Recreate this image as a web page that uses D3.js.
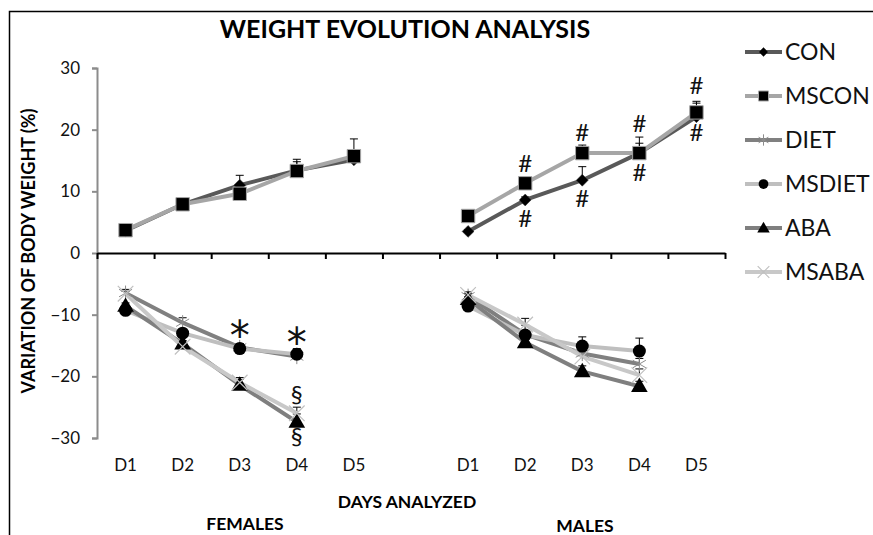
<!DOCTYPE html>
<html>
<head>
<meta charset="utf-8">
<script src="https://cdnjs.cloudflare.com/ajax/libs/d3/7.8.5/d3.min.js"></script>
<style>
  body { margin: 0; background: #fff; }
  svg { font-family: Lato, "Open Sans", sans-serif; }
</style>
</head>
<body>
<div id="chart"></div>
<script>
// categories on the x axis: females D1-D5, an empty slot, males D1-D5
const days = ['D1', 'D2', 'D3', 'D4', 'D5'];
const groups = ['FEMALES', 'MALES'];
const yTicks = [-30, -20, -10, 0, 10, 20, 30];

const seriesNames = ['CON', 'MSCON', 'DIET', 'MSDIET', 'ABA', 'MSABA'];

// variation of body weight (%), one array per group
const femCON    = [3.6, 7.9, 11.0, 13.4, 15.1];
const femMSCON  = [3.7, 7.9, 9.6, 13.3, 15.7];
const femDIET   = [-6.5, -11.3, -15.3, -16.8];
const femMSDIET = [-9.3, -13.0, -15.5, -16.4];
const femABA    = [-8.6, -14.7, -21.4, -27.4];
const femMSABA  = [-6.6, -15.2, -21.0, -26.0];

const maleCON    = [3.5, 8.6, 11.8, 16.2, 22.1];
const maleMSCON  = [6.0, 11.3, 16.2, 16.2, 22.8];
const maleDIET   = [-7.0, -13.2, -16.3, -18.0];
const maleMSDIET = [-8.6, -13.3, -15.1, -15.9];
const maleABA    = [-7.5, -14.5, -19.2, -21.6];
const maleMSABA  = [-6.8, -11.6, -16.8, -19.8];

// upper error bars (SEM)
const femCONErr    = [0.3, 0.4, 1.6, 1.8, 1.0];
const femMSCONErr  = [0.3, 0.3, 0.6, 1.5, 2.8];
const femDIETErr   = [0.6, 0.8, 0.6, 0.8];
const femMSDIETErr = [0.4, 0.5, 0.8, 0.9];
const femABAErr    = [0.5, 0.5, 0.9, 1.3];
const femMSABAErr  = [0.4, 0.6, 0.8, 1.0];

const maleCONErr    = [0.3, 0.5, 2.2, 2.6, 2.5];
const maleMSCONErr  = [0.3, 0.4, 1.3, 1.6, 1.5];
const maleDIETErr   = [0.4, 0.6, 0.8, 0.9];
const maleMSDIETErr = [0.4, 1.6, 1.5, 2.1];
const maleABAErr    = [0.4, 0.5, 0.9, 0.8];
const maleMSABAErr  = [0.5, 1.0, 1.0, 1.0];

// significance marks: day, value where the mark sits, symbol
const femMarks = [
  ['D3', -12.5, '*'], ['D4', -13.6, '*'],
  ['D4', -23.0, '§'], ['D4', -29.8, '§']
];
const maleMarks = [
  ['D2', 14.6, '#'], ['D2', 5.6, '#'],
  ['D3', 19.6, '#'], ['D3', 8.8, '#'],
  ['D4', 21.1, '#'], ['D4', 13.1, '#'],
  ['D5', 27.2, '#'], ['D5', 19.6, '#']
];

const styles = {
  CON:    { line: '#595959', marker: 'diamond' },
  MSCON:  { line: '#a6a6a6', marker: 'square' },
  DIET:   { line: '#808080', marker: 'star' },
  MSDIET: { line: '#bfbfbf', marker: 'circle' },
  ABA:    { line: '#7f7f7f', marker: 'triangle' },
  MSABA:  { line: '#c8c8c8', marker: 'cross' }
};

const width = 873, height = 535;
const svg = d3.select('#chart').append('svg')
  .attr('width', width).attr('height', height);

// outer frame (only left and top edge visible)
svg.append('rect')
  .attr('x', 9.5).attr('y', 11.5)
  .attr('width', 1000).attr('height', 1000)
  .attr('fill', 'none').attr('stroke', '#000').attr('stroke-width', 1.5);

const categories = days.map(d => 'F' + d).concat(['gap'], days.map(d => 'M' + d));
const x = d3.scaleBand().domain(categories).range([97, 725]);
const xEdges = d3.scaleLinear().domain([0, categories.length]).range([97, 725]);
const y = d3.scaleLinear().domain([-30, 30]).range([438, 68]);

// y axis
const yAxis = svg.append('g')
  .attr('transform', 'translate(97,0)')
  .call(d3.axisLeft(y).tickValues(yTicks).tickSize(5).tickSizeOuter(5).tickPadding(12));
yAxis.selectAll('path, line').attr('stroke', '#8c8c8c').attr('stroke-width', 2);
yAxis.selectAll('text').attr('font-size', 17).attr('fill', '#111')
  .attr('font-family', 'Lato, sans-serif');

// x axis at zero with ticks on category edges
const xAxis = svg.append('g')
  .attr('transform', `translate(0,${y(0)})`)
  .call(d3.axisBottom(xEdges).tickValues(d3.range(categories.length + 1))
    .tickSize(6).tickSizeOuter(0).tickFormat(''));
xAxis.selectAll('path, line').attr('stroke', '#000').attr('stroke-width', 2);

// day labels under the plot
svg.append('g').selectAll('text').data(categories.filter(c => c !== 'gap'))
  .enter().append('text')
  .attr('x', c => x(c) + x.bandwidth() / 2)
  .attr('y', 471)
  .attr('text-anchor', 'middle')
  .attr('font-size', 17)
  .attr('fill', '#111')
  .text(c => c.slice(1));

// titles
svg.append('text').attr('x', 405).attr('y', 38).attr('text-anchor', 'middle')
  .attr('font-size', 25).attr('font-weight', 'bold').text('WEIGHT EVOLUTION ANALYSIS');
svg.append('text').attr('x', 407).attr('y', 508).attr('text-anchor', 'middle')
  .attr('font-size', 17.5).attr('font-weight', 'bold').text('DAYS ANALYZED');
svg.append('text').attr('x', 245).attr('y', 530).attr('text-anchor', 'middle')
  .attr('font-size', 17.5).attr('font-weight', 'bold').text(groups[0]);
svg.append('text').attr('x', 585).attr('y', 532).attr('text-anchor', 'middle')
  .attr('font-size', 17.5).attr('font-weight', 'bold').text(groups[1]);
svg.append('text')
  .attr('transform', 'translate(35,251) rotate(-90)')
  .attr('text-anchor', 'middle')
  .attr('font-size', 18).attr('font-weight', 'bold')
  .text('VARIATION OF BODY WEIGHT (%)');

function drawMarker(g, type, cx, cy, scale) {
  const s = scale || 1;
  if (type === 'diamond') {
    g.append('path')
      .attr('d', d3.symbol().type(d3.symbolDiamond2).size(90 * s * s)())
      .attr('transform', `translate(${cx},${cy})`)
      .attr('fill', '#000').attr('stroke', '#333').attr('stroke-width', 0.5);
  } else if (type === 'square') {
    g.append('path')
      .attr('d', d3.symbol().type(d3.symbolSquare).size(180 * s * s)())
      .attr('transform', `translate(${cx},${cy})`)
      .attr('fill', '#000').attr('stroke', '#a6a6a6').attr('stroke-width', 1);
  } else if (type === 'circle') {
    g.append('circle').attr('cx', cx).attr('cy', cy).attr('r', 6.5 * s)
      .attr('fill', '#000');
  } else if (type === 'triangle') {
    g.append('path')
      .attr('d', d3.symbol().type(d3.symbolTriangle).size(120 * s * s)())
      .attr('transform', `translate(${cx},${cy + 1})`)
      .attr('fill', '#000');
  } else if (type === 'star') {
    g.append('path')
      .attr('d', d3.symbol().type(d3.symbolAsterisk).size(160 * s * s)())
      .attr('transform', `translate(${cx},${cy})`)
      .attr('fill', 'none').attr('stroke', '#8c8c8c').attr('stroke-width', 1);
  } else if (type === 'cross') {
    g.append('path')
      .attr('d', d3.symbol().type(d3.symbolX).size(160 * s * s)())
      .attr('transform', `translate(${cx},${cy})`)
      .attr('fill', 'none').attr('stroke', '#c0c0c0').attr('stroke-width', 1.2);
  }
}

const groupData = [
  { prefix: 'F', values: [femCON, femMSCON, femDIET, femMSDIET, femABA, femMSABA],
    errs: [femCONErr, femMSCONErr, femDIETErr, femMSDIETErr, femABAErr, femMSABAErr],
    marks: femMarks },
  { prefix: 'M', values: [maleCON, maleMSCON, maleDIET, maleMSDIET, maleABA, maleMSABA],
    errs: [maleCONErr, maleMSCONErr, maleDIETErr, maleMSDIETErr, maleABAErr, maleMSABAErr],
    marks: maleMarks }
];

const cx = (prefix, i) => x(prefix + days[i]) + x.bandwidth() / 2;
const plot = svg.append('g');

groupData.forEach(gd => {
  // error bars first (upper only)
  gd.values.forEach((vals, si) => {
    vals.forEach((v, i) => {
      const e = gd.errs[si][i];
      if (!e) return;
      const px = cx(gd.prefix, i);
      plot.append('line').attr('x1', px).attr('x2', px)
        .attr('y1', y(v)).attr('y2', y(v + e)).attr('stroke', '#000').attr('stroke-width', 1);
      plot.append('line').attr('x1', px - 4).attr('x2', px + 4)
        .attr('y1', y(v + e)).attr('y2', y(v + e)).attr('stroke', '#000').attr('stroke-width', 1);
    });
  });
  // lines
  gd.values.forEach((vals, si) => {
    const st = styles[seriesNames[si]];
    const line = d3.line().x((v, i) => cx(gd.prefix, i)).y(v => y(v));
    plot.append('path').datum(vals).attr('d', line)
      .attr('fill', 'none').attr('stroke', st.line).attr('stroke-width', 4)
      .attr('stroke-linejoin', 'round');
  });
  // markers
  gd.values.forEach((vals, si) => {
    const st = styles[seriesNames[si]];
    vals.forEach((v, i) => drawMarker(plot, st.marker, cx(gd.prefix, i), y(v)));
  });
  // significance marks
  gd.marks.forEach(m => {
    const t = plot.append('text')
      .attr('x', x(gd.prefix + m[0]) + x.bandwidth() / 2)
      .attr('y', y(m[1]))
      .attr('text-anchor', 'middle')
      .attr('fill', '#111')
      .text(m[2]);
    if (m[2] === '*') {
      t.attr('dy', '0.5em').attr('font-size', 40).attr('font-family', '"DejaVu Sans", sans-serif')
        .attr('font-weight', 'normal');
    } else {
      t.attr('dy', '0.36em').attr('font-size', 24);
    }
  });
});

// legend
const legend = svg.append('g').attr('transform', 'translate(745,52)');
seriesNames.forEach((name, i) => {
  const row = legend.append('g').attr('transform', `translate(0,${i * 44})`);
  row.append('line').attr('x1', 0).attr('x2', 37).attr('y1', 0).attr('y2', 0)
    .attr('stroke', styles[name].line).attr('stroke-width', 4);
  drawMarker(row, styles[name].marker, 18.5, 0, 0.75);
  row.append('text').attr('x', 40).attr('y', 0).attr('dy', '0.36em')
    .attr('font-size', 23).attr('fill', '#111').text(name);
});
</script>
</body>
</html>
